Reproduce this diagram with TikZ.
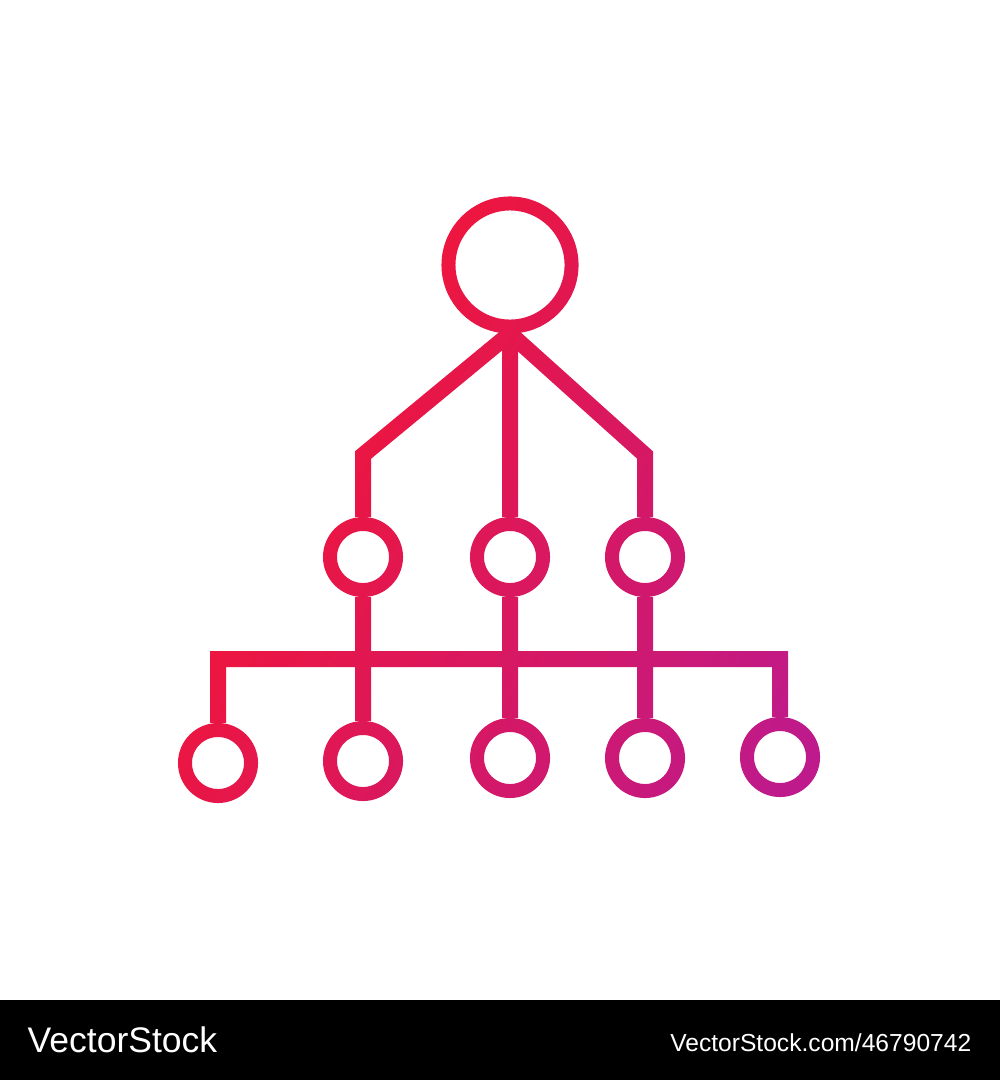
\documentclass[tikz,border=0pt]{standalone}
\usepackage{fontspec}
\setmainfont{Liberation Sans}
\usetikzlibrary{fadings}
\definecolor{gradA}{HTML}{EC1640}
\definecolor{gradB}{HTML}{BE1A8C}
\pgfdeclarehorizontalshading{icongrad}{100bp}{color(0bp)=(gradA); color(37bp)=(gradA); color(80bp)=(gradB); color(100bp)=(gradB)}
\tikzset{
  ring/.style={circle, draw=transparent!0, line width=0.14cm, inner sep=0pt, minimum size=#1},
  link/.style={draw=transparent!0, line width=0.16cm, line join=miter, line cap=butt},
  wmark/.style={text=white, inner sep=0pt},
}
\begin{tikzfadingfrompicture}[name=iconfade, x=0.01cm, y=-0.01cm]
  \useasboundingbox (170,190) rectangle (830,820);
  \node[ring=1.23cm] (top) at (510,265) {};
  \node[ring=0.66cm] (m1) at (363,557) {};
  \node[ring=0.66cm] (m2) at (510,557) {};
  \node[ring=0.66cm] (m3) at (645,557) {};
  \node[ring=0.66cm] (b1) at (218,763) {};
  \node[ring=0.66cm] (b2) at (363,761) {};
  \node[ring=0.66cm] (b3) at (510,758) {};
  \node[ring=0.66cm] (b4) at (645,758) {};
  \node[ring=0.66cm] (b5) at (780,757) {};
  \coordinate (cL) at (363,455);
  \coordinate (cR) at (645,455);
  \coordinate (barL) at (218,659);
  \coordinate (barR) at (780,659);
  \path[link] (top.south) -- (cL) -- (m1.north);
  \path[link] (top.south) -- (m2.north);
  \path[link] (top.south) -- (cR) -- (m3.north);
  \path[link] (m1.south) -- (b2.north);
  \path[link] (m2.south) -- (b3.north);
  \path[link] (m3.south) -- (b4.north);
  \path[link] (b1.north) -- (barL) -- (barR) -- (b5.north);
\end{tikzfadingfrompicture}
\begin{document}
\begin{tikzpicture}[x=0.01cm, y=-0.01cm]
  \useasboundingbox (0,0) rectangle (1000,1080);
  \fill[white] (0,0) rectangle (1000,1000);
  \fill[black] (0,1000) rectangle (1000,1080);
  \shade[shading=icongrad, shading angle=-30.4, path fading=iconfade, fit fading=false, fading transform={shift={(500,505)}}] (170,190) rectangle (830,820);
  \node[wmark, anchor=base west, font=\fontsize{10.1pt}{12pt}\selectfont] (wl) at (27,1052) {VectorStock};
  \node[wmark, anchor=base east, font=\fontsize{7pt}{9pt}\selectfont] (wr) at (972,1051) {VectorStock.com/46790742};
\end{tikzpicture}
\end{document}
